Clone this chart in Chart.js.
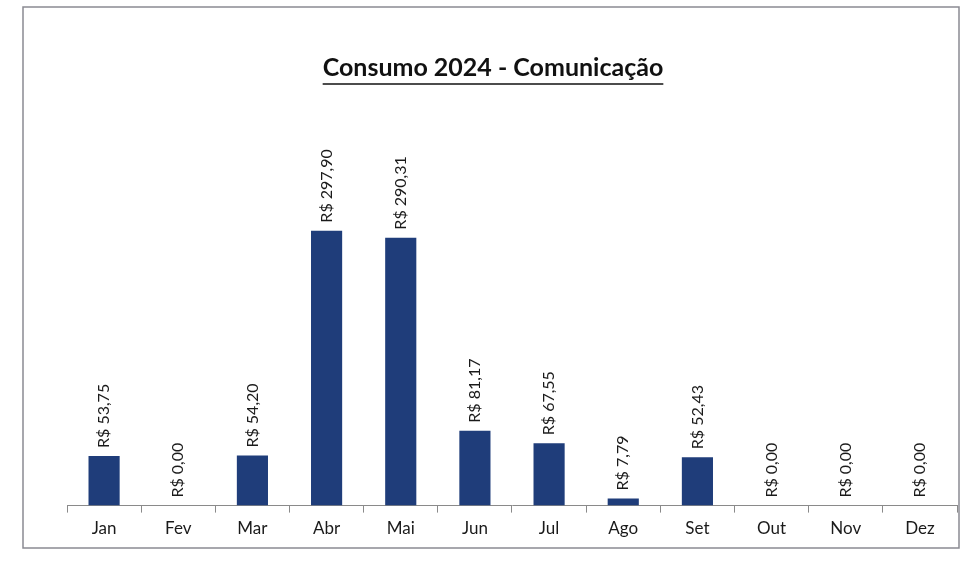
<!DOCTYPE html>
<html>
<head>
<meta charset="utf-8">
<script src="https://cdn.jsdelivr.net/npm/chart.js@4.4.1/dist/chart.umd.min.js"></script>
<style>
  html, body { margin: 0; padding: 0; background: #fff; }
  #wrap { width: 966px; height: 575px; }
</style>
</head>
<body>
<div id="wrap"><canvas id="consumoChart" width="966" height="575"></canvas></div>
<script>
const meses = ['Jan', 'Fev', 'Mar', 'Abr', 'Mai', 'Jun', 'Jul', 'Ago', 'Set', 'Out', 'Nov', 'Dez'];
const valores = [53.75, 0, 54.20, 297.90, 290.31, 81.17, 67.55, 7.79, 52.43, 0, 0, 0];
const titulo = 'Consumo 2024 - Comunicação';

const fontFamily = 'Lato, "Open Sans", sans-serif';

function formatBRL(v) {
  return 'R$ ' + v.toFixed(2).replace('.', ',');
}

// moldura cinza em volta do gráfico
const framePlugin = {
  id: 'frame',
  beforeDraw(chart) {
    const ctx = chart.ctx;
    ctx.save();
    ctx.strokeStyle = '#8a8a92';
    ctx.lineWidth = 1.5;
    ctx.strokeRect(23, 7, 936, 541);
    ctx.restore();
  }
};

// rótulos verticais acima das barras + título sublinhado
const labelsPlugin = {
  id: 'valueLabels',
  afterDatasetsDraw(chart) {
    const ctx = chart.ctx;
    const meta = chart.getDatasetMeta(0);
    ctx.save();
    ctx.font = '16px ' + fontFamily;
    ctx.fillStyle = '#1a1a1a';
    ctx.textAlign = 'left';
    ctx.textBaseline = 'middle';
    meta.data.forEach((bar, i) => {
      ctx.save();
      ctx.translate(bar.x, bar.y - 8);
      ctx.rotate(-Math.PI / 2);
      ctx.fillText(formatBRL(valores[i]), 0, 0);
      ctx.restore();
    });
    ctx.restore();
  },
  afterDraw(chart) {
    const ctx = chart.ctx;
    ctx.save();
    ctx.font = 'bold 25px ' + fontFamily;
    ctx.fillStyle = '#111';
    ctx.textAlign = 'center';
    ctx.textBaseline = 'middle';
    const cx = 493;
    ctx.fillText(titulo, cx, 68);
    const w = ctx.measureText(titulo).width;
    ctx.strokeStyle = '#111';
    ctx.lineWidth = 1.5;
    ctx.beginPath();
    ctx.moveTo(cx - w / 2, 84);
    ctx.lineTo(cx + w / 2, 84);
    ctx.stroke();
    ctx.restore();
  }
};

new Chart(document.getElementById('consumoChart').getContext('2d'), {
  type: 'bar',
  data: {
    labels: meses,
    datasets: [{
      data: valores,
      backgroundColor: '#1f3d7a',
      barPercentage: 0.42,
      categoryPercentage: 1
    }]
  },
  options: {
    responsive: false,
    animation: false,
    layout: { padding: { left: 67, right: 9, top: 141, bottom: 30 } },
    plugins: {
      legend: { display: false },
      tooltip: { enabled: false },
      title: { display: false }
    },
    scales: {
      x: {
        offset: true,
        grid: {
          offset: true,
          drawOnChartArea: false,
          drawTicks: true,
          tickLength: 7,
          color: '#8a8a8a'
        },
        border: { display: true, color: '#8a8a8a', width: 1 },
        ticks: {
          color: '#1a1a1a',
          font: { family: fontFamily, size: 17 },
          padding: 6
        }
      },
      y: {
        display: false,
        min: 0,
        max: 395
      }
    }
  },
  plugins: [framePlugin, labelsPlugin]
});
</script>
</body>
</html>
